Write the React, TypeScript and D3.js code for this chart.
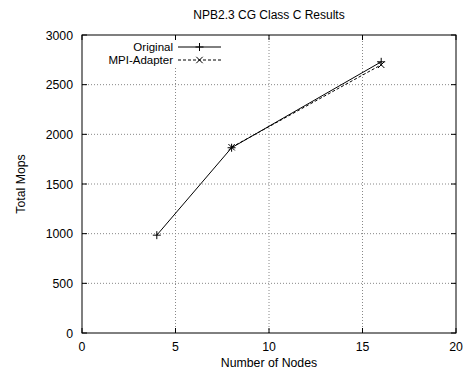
import React from "react";
import * as d3 from "d3";

const title = "NPB2.3 CG Class C Results";
const xTicks = [0, 5, 10, 15, 20];
const yTicks = [0, 500, 1000, 1500, 2000, 2500, 3000];
const originalX = [4, 8, 16];
const originalY = [985, 1865, 2730];
const adapterX = [8, 16];
const adapterY = [1870, 2700];
const seriesNames = ["Original", "MPI-Adapter"];

export default function App() {
  const W = 464, H = 372;
  const left = 82, right = 456, top = 35, bottom = 333;
  const x = d3.scaleLinear().domain([0, 20]).range([left, right]);
  const y = d3.scaleLinear().domain([0, 3000]).range([bottom, top]);
  const line = d3.line<[number, number]>().x(d => x(d[0])).y(d => y(d[1]));
  const orig: [number, number][] = originalX.map((v, i) => [v, originalY[i]]);
  const adap: [number, number][] = adapterX.map((v, i) => [v, adapterY[i]]);
  const font = "Liberation Sans, Arial, Helvetica, sans-serif";
  const fs = 12.3;
  const plus = (cx: number, cy: number, s = 4, k = "") => (
    <g key={k} stroke="#000" strokeWidth={1}>
      <line x1={cx - s} x2={cx + s} y1={cy} y2={cy} />
      <line x1={cx} x2={cx} y1={cy - s} y2={cy + s} />
    </g>
  );
  const cross = (cx: number, cy: number, s = 3.2, k = "") => (
    <g key={k} stroke="#000" strokeWidth={1}>
      <line x1={cx - s} x2={cx + s} y1={cy - s} y2={cy + s} />
      <line x1={cx - s} x2={cx + s} y1={cy + s} y2={cy - s} />
    </g>
  );
  const tl = 5;
  return (
    <svg width={W} height={H} style={{ position: "absolute", left: 0, top: 0 }} fontFamily={font}>
      <rect width={W} height={H} fill="#fff" />
      <text x={269} y={19} fontSize={12} textAnchor="middle">{title}</text>
      {/* grid */}
      {xTicks.slice(1, -1).map(t => (
        <line key={"gx" + t} x1={x(t)} x2={x(t)} y1={top} y2={bottom} stroke="#888" strokeDasharray="1,2" />
      ))}
      {yTicks.slice(1, -1).map(t => (
        <line key={"gy" + t} x1={left} x2={right} y1={y(t)} y2={y(t)} stroke="#888" strokeDasharray="1,2" />
      ))}
      {/* legend background */}
      <rect x={110} y={40} width={115} height={26} fill="#fff" />
      {/* ticks */}
      {xTicks.map(t => (
        <g key={"tx" + t}>
          <line x1={x(t)} x2={x(t)} y1={bottom} y2={bottom - tl} stroke="#000" />
          <line x1={x(t)} x2={x(t)} y1={top} y2={top + tl} stroke="#000" />
          <text x={x(t)} y={bottom + 18} fontSize={fs} textAnchor="middle">{t}</text>
        </g>
      ))}
      {yTicks.map(t => (
        <g key={"ty" + t}>
          <line x1={left} x2={left + tl} y1={y(t)} y2={y(t)} stroke="#000" />
          <line x1={right} x2={right - tl} y1={y(t)} y2={y(t)} stroke="#000" />
          <text x={left - 9} y={y(t) + 4.5} fontSize={fs} textAnchor="end">{t}</text>
        </g>
      ))}
      <rect x={left} y={top} width={right - left} height={bottom - top} fill="none" stroke="#000" />
      <text x={269} y={367} fontSize={fs} textAnchor="middle">Number of Nodes</text>
      <text transform={`translate(25,${(top + bottom) / 2}) rotate(-90)`} fontSize={fs} textAnchor="middle">Total Mops</text>
      {/* series */}
      <path d={line(orig) || ""} fill="none" stroke="#000" strokeWidth={1} />
      <path d={line(adap) || ""} fill="none" stroke="#000" strokeWidth={1} strokeDasharray="3,2" />
      {orig.map((d, i) => plus(x(d[0]), y(d[1]), 4, "p" + i))}
      {adap.map((d, i) => cross(x(d[0]), y(d[1]), 3.2, "c" + i))}
      {/* legend */}
      <text x={173} y={51} fontSize={11.5} textAnchor="end">{seriesNames[0]}</text>
      <line x1={178} x2={221} y1={47} y2={47} stroke="#000" />
      {plus(199.5, 47, 4, "lp")}
      <text x={173} y={64} fontSize={11.5} textAnchor="end">{seriesNames[1]}</text>
      <line x1={178} x2={221} y1={60} y2={60} stroke="#000" strokeDasharray="3,2" />
      {cross(199.5, 60, 3.2, "lc")}
    </svg>
  );
}
